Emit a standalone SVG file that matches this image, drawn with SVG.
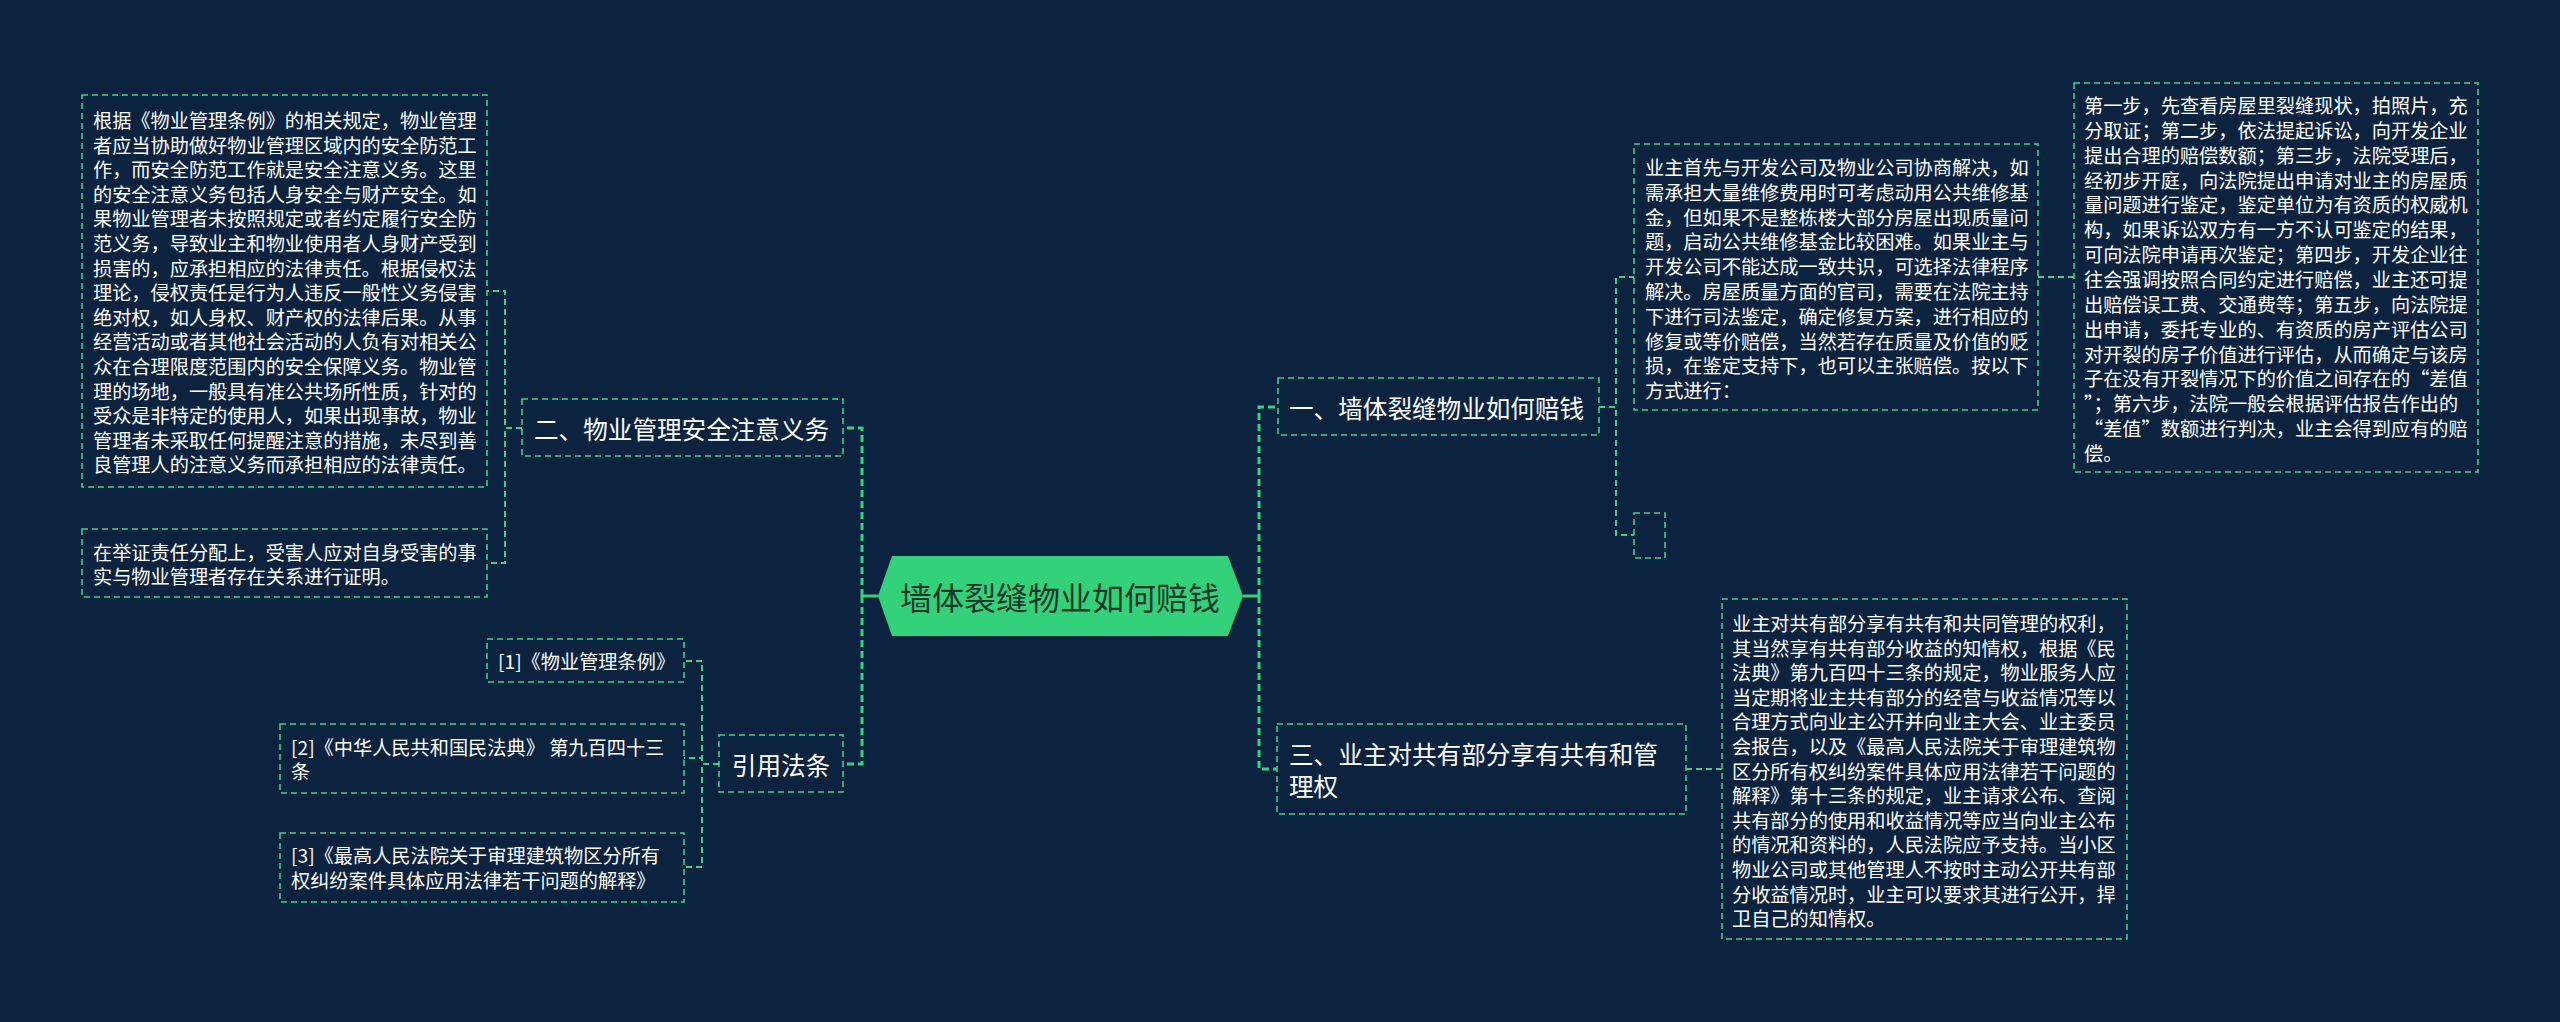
<svg xmlns="http://www.w3.org/2000/svg" width="2560" height="1022" viewBox="0 0 2560 1022">
<style>
text{font-family:"Noto Sans CJK SC","Noto Sans",sans-serif;fill:#ffffff}
.t{font-size:19.2px}
.n{font-size:24.6px}
.box{fill:none;stroke:#3fcf88;stroke-width:1.6;stroke-dasharray:6 4}
.c1{fill:none;stroke:#35d27d;stroke-width:3;stroke-dasharray:7 4}
.c2{fill:none;stroke:#3fcf88;stroke-width:2;stroke-dasharray:6 4}
.s{fill:none;stroke:#35d27d;stroke-width:3}
</style>
<rect x="0" y="0" width="2560" height="1022" fill="#0c2340"/>
<g id="connectors">
<path class="s" d="M878,596 H862"/>
<path class="c1" d="M862,596 V428 H843"/>
<path class="c1" d="M862,596 V764 H843"/>
<path class="s" d="M1243,596 H1259"/>
<path class="c1" d="M1259,596 V407 H1278"/>
<path class="c1" d="M1259,596 V769 H1277"/>
<path class="c2" d="M522,428 H505 V291 H487"/>
<path class="c2" d="M522,428 H505 V563 H487"/>
<path class="c2" d="M719,764 H702 V661 H684"/>
<path class="c2" d="M719,764 H702 V758 H684"/>
<path class="c2" d="M719,764 H702 V867 H684"/>
<path class="c2" d="M1599,407 H1616 V277 H1634"/>
<path class="c2" d="M1599,407 H1616 V535 H1634"/>
<path class="c2" d="M2038,277 H2074"/>
<path class="c2" d="M1686,769 H1722"/>
</g>
<g id="root">
<polygon points="878,596 892,556 1228,556 1243,596 1228,636 892,636" fill="#33d27a"/>
<text x="1060" y="596" text-anchor="middle" dominant-baseline="central" style="font-size:32px;fill:#18372a">墙体裂缝物业如何赔钱</text>
</g>
<g id="n2">
<rect class="box" x="522" y="399" width="321" height="57"/>
<text class="n" x="534" y="428" dominant-baseline="central">二、物业管理安全注意义务</text>
</g>
<g id="n2a">
<rect class="box" x="82" y="95" width="405" height="392"/>
<g class="t">
<text x="93" y="120" dominant-baseline="central">根据《物业管理条例》的相关规定，物业管理</text>
<text x="93" y="144.6" dominant-baseline="central">者应当协助做好物业管理区域内的安全防范工</text>
<text x="93" y="169.2" dominant-baseline="central">作，而安全防范工作就是安全注意义务。这里</text>
<text x="93" y="193.8" dominant-baseline="central">的安全注意义务包括人身安全与财产安全。如</text>
<text x="93" y="218.4" dominant-baseline="central">果物业管理者未按照规定或者约定履行安全防</text>
<text x="93" y="243" dominant-baseline="central">范义务，导致业主和物业使用者人身财产受到</text>
<text x="93" y="267.6" dominant-baseline="central">损害的，应承担相应的法律责任。根据侵权法</text>
<text x="93" y="292.2" dominant-baseline="central">理论，侵权责任是行为人违反一般性义务侵害</text>
<text x="93" y="316.8" dominant-baseline="central">绝对权，如人身权、财产权的法律后果。从事</text>
<text x="93" y="341.4" dominant-baseline="central">经营活动或者其他社会活动的人负有对相关公</text>
<text x="93" y="366" dominant-baseline="central">众在合理限度范围内的安全保障义务。物业管</text>
<text x="93" y="390.6" dominant-baseline="central">理的场地，一般具有准公共场所性质，针对的</text>
<text x="93" y="415.2" dominant-baseline="central">受众是非特定的使用人，如果出现事故，物业</text>
<text x="93" y="439.8" dominant-baseline="central">管理者未采取任何提醒注意的措施，未尽到善</text>
<text x="93" y="464.4" dominant-baseline="central">良管理人的注意义务而承担相应的法律责任。</text>
</g>
</g>
<g id="n2b">
<rect class="box" x="82" y="529" width="405" height="68"/>
<g class="t">
<text x="93" y="552" dominant-baseline="central">在举证责任分配上，受害人应对自身受害的事</text>
<text x="93" y="576" dominant-baseline="central">实与物业管理者存在关系进行证明。</text>
</g>
</g>
<g id="n4">
<rect class="box" x="719" y="735" width="124" height="57"/>
<text class="n" x="781" y="764" text-anchor="middle" dominant-baseline="central">引用法条</text>
</g>
<g id="ref1">
<rect class="box" x="487" y="639" width="197" height="43"/>
<text class="t" x="498" y="661" dominant-baseline="central">[1]《物业管理条例》</text>
</g>
<g id="ref2">
<rect class="box" x="280" y="724" width="404" height="69"/>
<g class="t">
<text x="291" y="747" dominant-baseline="central">[2]《中华人民共和国民法典》 第九百四十三</text>
<text x="291" y="771" dominant-baseline="central">条</text>
</g>
</g>
<g id="ref3">
<rect class="box" x="280" y="833" width="404" height="69"/>
<g class="t">
<text x="291" y="855" dominant-baseline="central">[3]《最高人民法院关于审理建筑物区分所有</text>
<text x="291" y="880" dominant-baseline="central">权纠纷案件具体应用法律若干问题的解释》</text>
</g>
</g>
<g id="n1">
<rect class="box" x="1278" y="378" width="321" height="57"/>
<text class="n" x="1289" y="407" dominant-baseline="central">一、墙体裂缝物业如何赔钱</text>
</g>
<g id="n1a">
<rect class="box" x="1634" y="144" width="404" height="266"/>
<g class="t">
<text x="1645" y="167" dominant-baseline="central">业主首先与开发公司及物业公司协商解决，如</text>
<text x="1645" y="191.8" dominant-baseline="central">需承担大量维修费用时可考虑动用公共维修基</text>
<text x="1645" y="216.6" dominant-baseline="central">金，但如果不是整栋楼大部分房屋出现质量问</text>
<text x="1645" y="241.4" dominant-baseline="central">题，启动公共维修基金比较困难。如果业主与</text>
<text x="1645" y="266.2" dominant-baseline="central">开发公司不能达成一致共识，可选择法律程序</text>
<text x="1645" y="291" dominant-baseline="central">解决。房屋质量方面的官司，需要在法院主持</text>
<text x="1645" y="315.8" dominant-baseline="central">下进行司法鉴定，确定修复方案，进行相应的</text>
<text x="1645" y="340.6" dominant-baseline="central">修复或等价赔偿，当然若存在质量及价值的贬</text>
<text x="1645" y="365.4" dominant-baseline="central">损，在鉴定支持下，也可以主张赔偿。按以下</text>
<text x="1645" y="390.2" dominant-baseline="central">方式进行：</text>
</g>
</g>
<g id="n1b">
<rect class="box" x="1634" y="513" width="31" height="45"/>
</g>
<g id="n1a1">
<rect class="box" x="2074" y="83" width="404" height="389"/>
<g class="t">
<text x="2084" y="105" dominant-baseline="central">第一步，先查看房屋里裂缝现状，拍照片，充</text>
<text x="2084" y="129.85" dominant-baseline="central">分取证；第二步，依法提起诉讼，向开发企业</text>
<text x="2084" y="154.7" dominant-baseline="central">提出合理的赔偿数额；第三步，法院受理后，</text>
<text x="2084" y="179.55" dominant-baseline="central">经初步开庭，向法院提出申请对业主的房屋质</text>
<text x="2084" y="204.4" dominant-baseline="central">量问题进行鉴定，鉴定单位为有资质的权威机</text>
<text x="2084" y="229.25" dominant-baseline="central">构，如果诉讼双方有一方不认可鉴定的结果，</text>
<text x="2084" y="254.1" dominant-baseline="central">可向法院申请再次鉴定；第四步，开发企业往</text>
<text x="2084" y="278.95" dominant-baseline="central">往会强调按照合同约定进行赔偿，业主还可提</text>
<text x="2084" y="303.8" dominant-baseline="central">出赔偿误工费、交通费等；第五步，向法院提</text>
<text x="2084" y="328.65" dominant-baseline="central">出申请，委托专业的、有资质的房产评估公司</text>
<text x="2084" y="353.5" dominant-baseline="central">对开裂的房子价值进行评估，从而确定与该房</text>
<text x="2084" y="378.35" dominant-baseline="central">子在没有开裂情况下的价值之间存在的“差值</text>
<text x="2084" y="403.2" dominant-baseline="central">”；第六步，法院一般会根据评估报告作出的</text>
<text x="2084" y="428.05" dominant-baseline="central">“差值”数额进行判决，业主会得到应有的赔</text>
<text x="2084" y="452.9" dominant-baseline="central">偿。</text>
</g>
</g>
<g id="n3">
<rect class="box" x="1277" y="724" width="409" height="90"/>
<text class="n" x="1289" y="753" dominant-baseline="central">三、业主对共有部分享有共有和管</text>
<text class="n" x="1289" y="785" dominant-baseline="central">理权</text>
</g>
<g id="n3a">
<rect class="box" x="1722" y="599" width="405" height="340"/>
<g class="t">
<text x="1732" y="623" dominant-baseline="central">业主对共有部分享有共有和共同管理的权利，</text>
<text x="1732" y="647.6" dominant-baseline="central">其当然享有共有部分收益的知情权，根据《民</text>
<text x="1732" y="672.2" dominant-baseline="central">法典》第九百四十三条的规定，物业服务人应</text>
<text x="1732" y="696.8" dominant-baseline="central">当定期将业主共有部分的经营与收益情况等以</text>
<text x="1732" y="721.4" dominant-baseline="central">合理方式向业主公开并向业主大会、业主委员</text>
<text x="1732" y="746" dominant-baseline="central">会报告，以及《最高人民法院关于审理建筑物</text>
<text x="1732" y="770.6" dominant-baseline="central">区分所有权纠纷案件具体应用法律若干问题的</text>
<text x="1732" y="795.2" dominant-baseline="central">解释》第十三条的规定，业主请求公布、查阅</text>
<text x="1732" y="819.8" dominant-baseline="central">共有部分的使用和收益情况等应当向业主公布</text>
<text x="1732" y="844.4" dominant-baseline="central">的情况和资料的，人民法院应予支持。当小区</text>
<text x="1732" y="869" dominant-baseline="central">物业公司或其他管理人不按时主动公开共有部</text>
<text x="1732" y="893.6" dominant-baseline="central">分收益情况时，业主可以要求其进行公开，捍</text>
<text x="1732" y="918.2" dominant-baseline="central">卫自己的知情权。</text>
</g>
</g>
</svg>
